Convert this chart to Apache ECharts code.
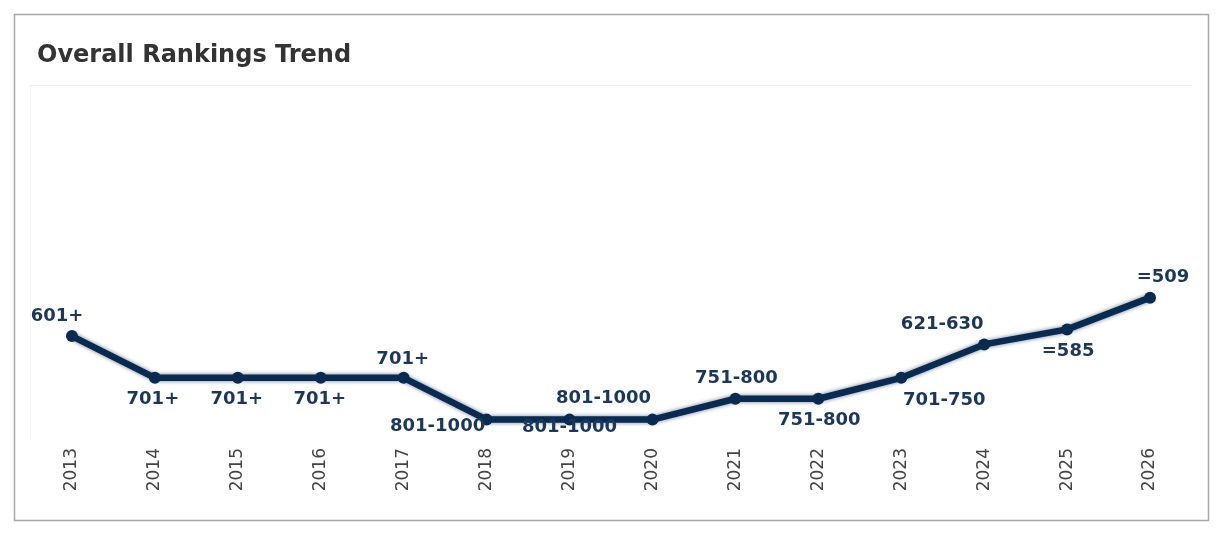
<!DOCTYPE html>
<html>
<head>
<meta charset="utf-8">
<script src="https://cdn.jsdelivr.net/npm/echarts@6/dist/echarts.min.js"></script>
<style>
html,body{margin:0;padding:0;background:#fff;}
#chart{width:1225px;height:535px;}
</style>
</head>
<body>
<div id="chart"></div>
<script>
const years = ['2013','2014','2015','2016','2017','2018','2019','2020','2021','2022','2023','2024','2025','2026'];
const rankValues = [601, 701, 701, 701, 701, 801, 801, 801, 751, 751, 701, 621, 585, 509];
const rankLabels = ['601+','701+','701+','701+','701+','801-1000','801-1000','801-1000','751-800','751-800','701-750','621-630','=585','=509'];

// label placement (layout only): offset of label centre from point
const labelOffsets = [[-15,-20],[-2,21],[-1,21],[-1,21],[-1,-19],[-49,7],[0,8],[-49,-21],[1,-20],[1,22],[43,22],[-42,-20],[1,22],[13,-20]];

const chart = echarts.init(document.getElementById('chart'));

chart.setOption({
  animation: false,
  backgroundColor: '#ffffff',
  title: {
    text: 'Overall Rankings Trend',
    left: 37, top: 44, padding: 0,
    textStyle: { fontFamily: 'DejaVu Sans', fontWeight: 'bold', fontSize: 24, color: '#333333' }
  },
  graphic: [{
    type: 'rect', silent: true,
    shape: { x: 14.5, y: 14.5, width: 1194, height: 506 },
    style: { fill: 'none', stroke: '#a8a8a8', lineWidth: 1.5 }
  }],
  grid: { left: 30.5, right: 33.5, top: 85, bottom: 97, containLabel: false },
  xAxis: {
    type: 'category',
    data: years,
    boundaryGap: true,
    axisLine: { show: true, lineStyle: { color: '#eeeeee', width: 1 } },
    axisTick: { show: false },
    axisLabel: { rotate: 90, margin: 10, fontFamily: 'DejaVu Sans', fontSize: 17, color: '#444444' },
    splitLine: { show: false }
  },
  yAxis: {
    type: 'value',
    inverse: true,
    min: 0, max: 845,
    axisLine: { show: true, lineStyle: { color: '#f3f3f3' } },
    axisLabel: { show: false },
    axisTick: { show: false },
    splitLine: { show: false }
  },
  series: [{
    type: 'line',
    data: rankValues,
    symbol: 'circle',
    symbolSize: 12,
    lineStyle: { color: '#0b2a4f', width: 6.5, shadowBlur: 4, shadowColor: 'rgba(11,42,79,0.6)' },
    itemStyle: { color: '#0b2a4f' },
    label: {
      show: true,
      position: 'inside',
      align: 'center',
      verticalAlign: 'middle',
      formatter: (p) => rankLabels[p.dataIndex],
      fontFamily: 'DejaVu Sans',
      fontWeight: 'bold',
      fontSize: 18,
      color: '#1c375a'
    },
    labelLayout: (p) => ({
      dx: labelOffsets[p.dataIndex][0],
      dy: labelOffsets[p.dataIndex][1],
      hideOverlap: false
    })
  }]
});
</script>
</body>
</html>
